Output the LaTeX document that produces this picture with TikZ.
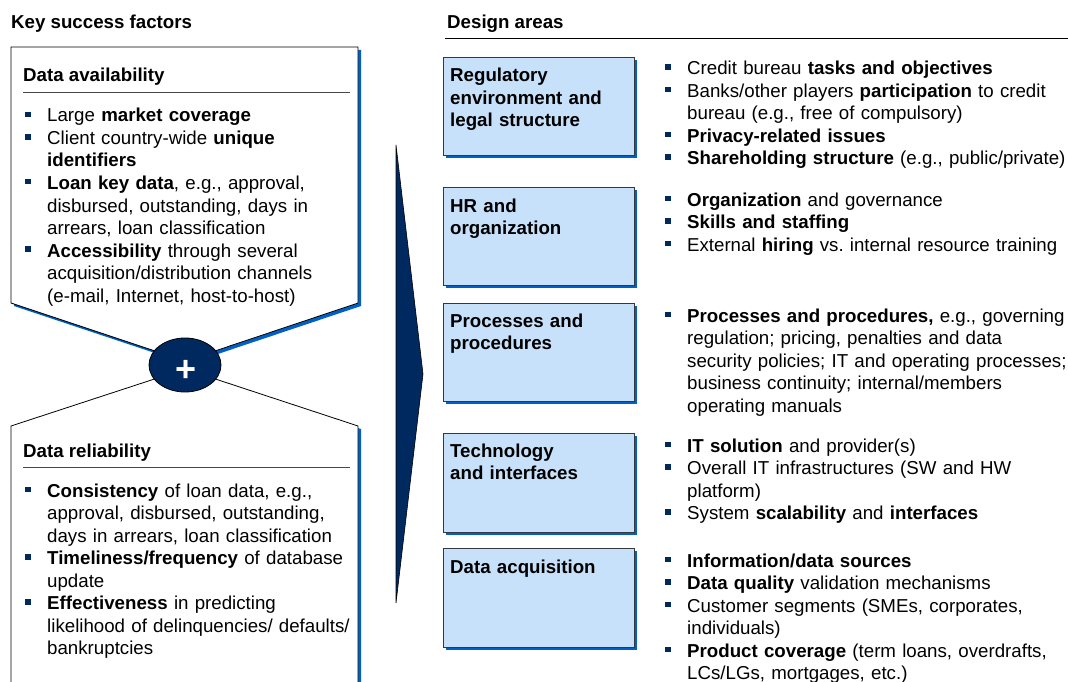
\documentclass[tikz,border=0pt]{standalone}
\usepackage{fontspec}
\usepackage{graphicx}
\setmainfont{Liberation Sans}
\usetikzlibrary{shapes.geometric,shadows}
\definecolor{navy}{RGB}{0,42,95}
\definecolor{shadowblue}{RGB}{0,96,200}
\definecolor{boxfill}{RGB}{200,225,250}
\definecolor{rulegray}{RGB}{70,70,70}
\definecolor{boxborder}{RGB}{55,55,60}
\frenchspacing
\newcommand\bl{\leavevmode\llap{\textcolor{navy}{\rule[5pt]{5.5pt}{5.5pt}}\hspace{16.5pt}}}
\tikzset{
  txt/.style={anchor=base west, inner sep=0pt, text width=420pt, align=left,
    font=\fontsize{18.7}{22.5}\selectfont\frenchspacing},
  head/.style={anchor=base west, inner sep=0pt, font=\fontsize{18.7}{22.5}\selectfont\bfseries},
  area/.style={draw=boxborder, line width=0.9pt, fill=boxfill, minimum width=191pt,
    minimum height=98pt, inner sep=0pt,
    drop shadow={shadow xshift=3pt, shadow yshift=-3pt, fill=shadowblue, opacity=1}},
  areatitle/.style={anchor=base west, inner sep=0pt, text width=180pt, align=left,
    font=\fontsize{18.7}{22.5}\selectfont\bfseries},
  ksfbox/.style={fill=white, draw=black, line width=0.8pt},
  ksfshadow/.style={fill=shadowblue},
}
\begin{document}
\begin{tikzpicture}[x=1pt,y=-1pt]
\useasboundingbox (0,0) rectangle (1068,682);

% titles
\node[head] (ksf) at (11,29) {Key success factors};
\node[head] (da) at (447,29) {Design areas};
\coordinate (dal) at (445,38);
\coordinate (dar) at (1068,38);
\draw[line width=0.8pt] (dal) -- (dar);

% left boxes
\fill[ksfshadow, shift={(3,3)}] (11,47) -- (358,47) -- (358,303) -- (185,361) -- (11,303) -- cycle;
\filldraw[ksfbox] (11,47) -- (358,47) -- (358,303) -- (185,361) -- (11,303) -- cycle;
\fill[ksfshadow, shift={(3,3)}] (11,426) -- (185,369) -- (358,426) -- (358,700) -- (11,700) -- cycle;
\filldraw[ksfbox] (11,426) -- (185,369) -- (358,426) -- (358,700) -- (11,700) -- cycle;

\node[head] (avail) at (23,82) {Data availability};
\draw[rulegray, line width=0.8pt] (23,92) -- (350,92);
\node[txt] (availtxt) at (47,122) {\bl Large \textbf{market coverage}\\
\bl Client country-wide \textbf{unique}\\
\textbf{identifiers}\\
\bl \textbf{Loan key data}, e.g., approval,\\
disbursed, outstanding, days in\\
arrears, loan classification\\
\bl \textbf{Accessibility} through several\\
acquisition/distribution channels\\
(e-mail, Internet, host-to-host)};

\node[head] (rel) at (23,457) {Data reliability};
\draw[rulegray, line width=0.8pt] (23,467) -- (350,467);
\node[txt] (reltxt) at (47,497) {\bl \textbf{Consistency} of loan data, e.g.,\\
approval, disbursed, outstanding,\\
days in arrears, loan classification\\
\bl \textbf{Timeliness/frequency} of database\\
update\\
\bl \textbf{Effectiveness} in predicting\\
likelihood of delinquencies/ defaults/\\
bankruptcies};

% plus ellipse
\node[ellipse, fill=navy, draw=black, line width=0.8pt, minimum width=72pt, minimum height=54pt, inner sep=0pt] (plus) at (185,365) {};
\node[text=white, font=\fontsize{36}{36}\selectfont\bfseries, inner sep=0pt] (plussign) at (186,371) {+};

% big arrow
\filldraw[fill=navy, draw=black, line width=0.6pt] (396,145) -- (423,374) -- (396,603) -- cycle;

% design area boxes
\node[area] (b1) at (538.5,106) {};
\node[area] (b2) at (538.5,236) {};
\node[area] (b3) at (538.5,352) {};
\node[area, minimum height=99pt] (b4) at (538.5,482.5) {};
\node[area, minimum height=99pt] (b5) at (538.5,597.5) {};

\node[areatitle] (t1) at (450,82) {Regulatory\\environment and\\legal structure};
\node[areatitle] (t2) at (450,212) {HR and\\organization};
\node[areatitle] (t3) at (450,327) {Processes and\\procedures};
\node[areatitle] (t4) at (450,457) {Technology\\and interfaces};
\node[areatitle] (t5) at (450,573) {Data acquisition};

% right bullet texts
\node[txt] (r1) at (687,75) {\bl Credit bureau \textbf{tasks and objectives}\\
\bl Banks/other players \textbf{participation} to credit\\
bureau (e.g., free of compulsory)\\
\bl \textbf{Privacy-related issues}\\
\bl \textbf{Shareholding structure} (e.g., public/private)};

\node[txt] (r2) at (687,206) {\bl \textbf{Organization} and governance\\
\bl \textbf{Skills and staffing}\\
\bl \resizebox{370pt}{!}{External \textbf{hiring} vs. internal resource training}};

\node[txt] (r3) at (687,322) {\bl \textbf{Processes and procedures,} e.g., governing\\
regulation; pricing, penalties and data\\
security policies; IT and operating processes;\\
business continuity; internal/members\\
operating manuals};

\node[txt] (r4) at (687,452) {\bl \textbf{IT solution} and provider(s)\\
\bl Overall IT infrastructures (SW and HW\\
platform)\\
\bl System \textbf{scalability} and \textbf{interfaces}};

\node[txt] (r5) at (687,567) {\bl \textbf{Information/data sources}\\
\bl \textbf{Data quality} validation mechanisms\\
\bl Customer segments (SMEs, corporates,\\
individuals)\\
\bl \textbf{Product coverage} (term loans, overdrafts,\\
LCs/LGs, mortgages, etc.)};
\end{tikzpicture}
\end{document}
